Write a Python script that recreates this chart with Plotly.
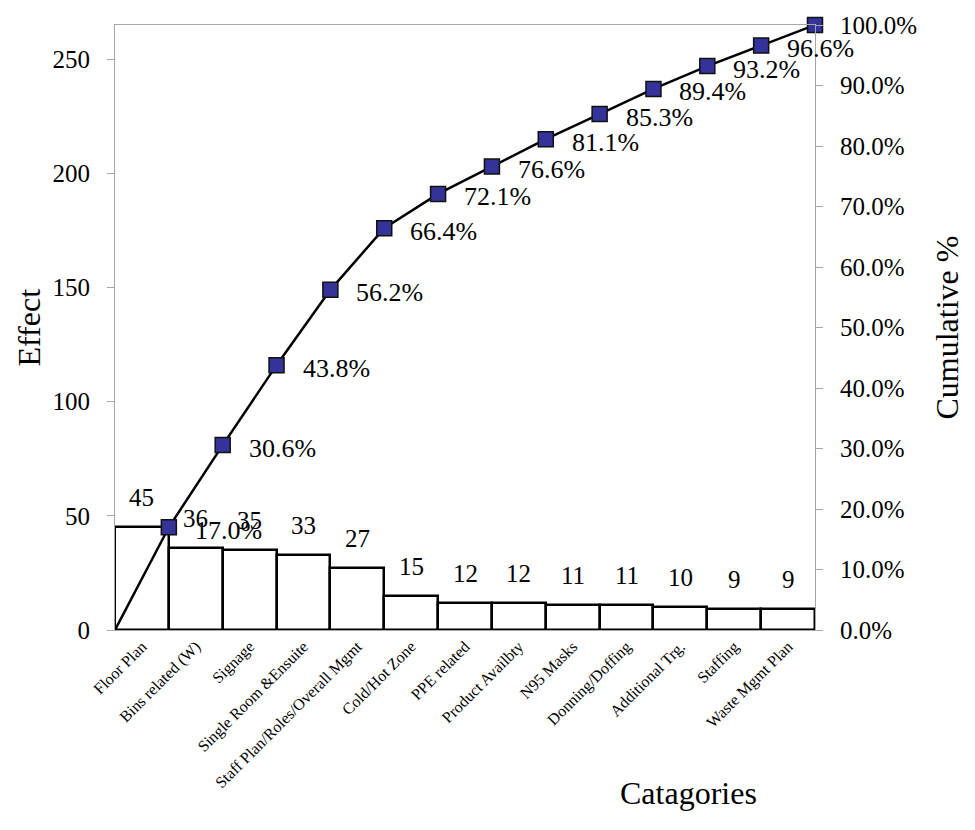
import plotly.graph_objects as go

# Pareto data
categories = ["Floor Plan", "Bins related (W)", "Signage", "Single Room &Ensuite",
              "Staff Plan/Roles/Overall Mgmt", "Cold/Hot Zone", "PPE related",
              "Product Availbty", "N95 Masks", "Donning/Doffing", "Additional Trg.",
              "Staffing", "Waste Mgmt Plan"]
effect = [45, 36, 35, 33, 27, 15, 12, 12, 11, 11, 10, 9, 9]
cum_pct_labels = ["17.0%", "30.6%", "43.8%", "56.2%", "66.4%", "72.1%", "76.6%",
                  "81.1%", "85.3%", "89.4%", "93.2%", "96.6%", "100.0%"]

total = sum(effect)
cum = []
running = 0
for v in effect:
    running += v
    cum.append(running / total)

n = len(categories)
bar_x = [i + 0.5 for i in range(n)]
line_x = list(range(n + 1))
line_y = [0.0] + cum

FONT = "Times New Roman, Liberation Serif, serif"
AXIS_GREY = "#a6a6a6"

fig = go.Figure()

fig.add_trace(go.Bar(
    x=bar_x, y=effect, width=1,
    marker=dict(color="white", line=dict(color="black", width=2.5)),
    hoverinfo="skip", showlegend=False,
))

fig.add_trace(go.Scatter(
    x=line_x, y=line_y, yaxis="y2", mode="lines",
    line=dict(color="black", width=2.5), showlegend=False, cliponaxis=False,
))
fig.add_trace(go.Scatter(
    x=line_x[1:], y=cum, yaxis="y2", mode="markers",
    marker=dict(symbol="square", size=15, color="#333399",
                line=dict(color="#111111", width=1.5)),
    showlegend=False, cliponaxis=False,
))

annotations = []
for xv, v in zip(bar_x, effect):
    annotations.append(dict(
        x=xv, y=v, xref="x", yref="y", text=str(v), showarrow=False,
        xanchor="center", yanchor="bottom", yshift=14,
        font=dict(family=FONT, size=25, color="black"),
    ))
# the final 100.0% point shares its spot with the 100.0% axis tick label
for xv, c, lab in zip(line_x[1:-1], cum[:-1], cum_pct_labels[:-1]):
    annotations.append(dict(
        x=xv, y=c, xref="x", yref="y2", text=lab, showarrow=False,
        xanchor="left", yanchor="middle", xshift=24, yshift=-3,
        font=dict(family=FONT, size=26, color="black"),
    ))

# axis titles
annotations.append(dict(x=(28 - 115) / 700, y=0.5, xref="paper", yref="paper", text="Effect",
                        showarrow=False, textangle=-90, xanchor="center", yanchor="middle",
                        font=dict(family=FONT, size=32, color="black")))
annotations.append(dict(x=(946 - 115) / 700, y=0.5, xref="paper", yref="paper",
                        text="Cumulative %", showarrow=False, textangle=-90,
                        xanchor="center", yanchor="middle",
                        font=dict(family=FONT, size=32, color="black")))
annotations.append(dict(x=(688 - 115) / 700, y=-(795 - 630) / 612, xref="paper", yref="paper",
                        text="Catagories", showarrow=False,
                        xanchor="center", yanchor="middle",
                        font=dict(family=FONT, size=32, color="black")))

fig.update_layout(
    width=975, height=830,
    margin=dict(l=115, r=160, t=18, b=200),
    paper_bgcolor="white", plot_bgcolor="white",
    bargap=0,
    font=dict(family=FONT, color="black"),
    xaxis=dict(
        range=[0, n], tickmode="array", tickvals=bar_x, ticktext=categories,
        tickangle=-45, tickfont=dict(family=FONT, size=16),
        showline=True, linecolor=AXIS_GREY, linewidth=1, mirror=True,
        showgrid=False, zeroline=False, ticks="",
    ),
    yaxis=dict(
        range=[0, total], tickmode="linear", tick0=0, dtick=50,
        tickfont=dict(family=FONT, size=25),
        showline=True, linecolor=AXIS_GREY, linewidth=1,
        ticks="outside", ticklen=7, tickcolor=AXIS_GREY, ticklabelstandoff=12,
        showgrid=False, zeroline=False,
    ),
    yaxis2=dict(
        range=[0, 1], overlaying="y", side="right", anchor="x",
        tickmode="linear", tick0=0, dtick=0.1, tickformat=".1%",
        tickfont=dict(family=FONT, size=25),
        showline=True, linecolor=AXIS_GREY, linewidth=1,
        ticks="outside", ticklen=7, tickcolor=AXIS_GREY, ticklabelstandoff=12,
        showgrid=False, zeroline=False,
    ),
    annotations=annotations,
)

fig.write_html("out.html")
